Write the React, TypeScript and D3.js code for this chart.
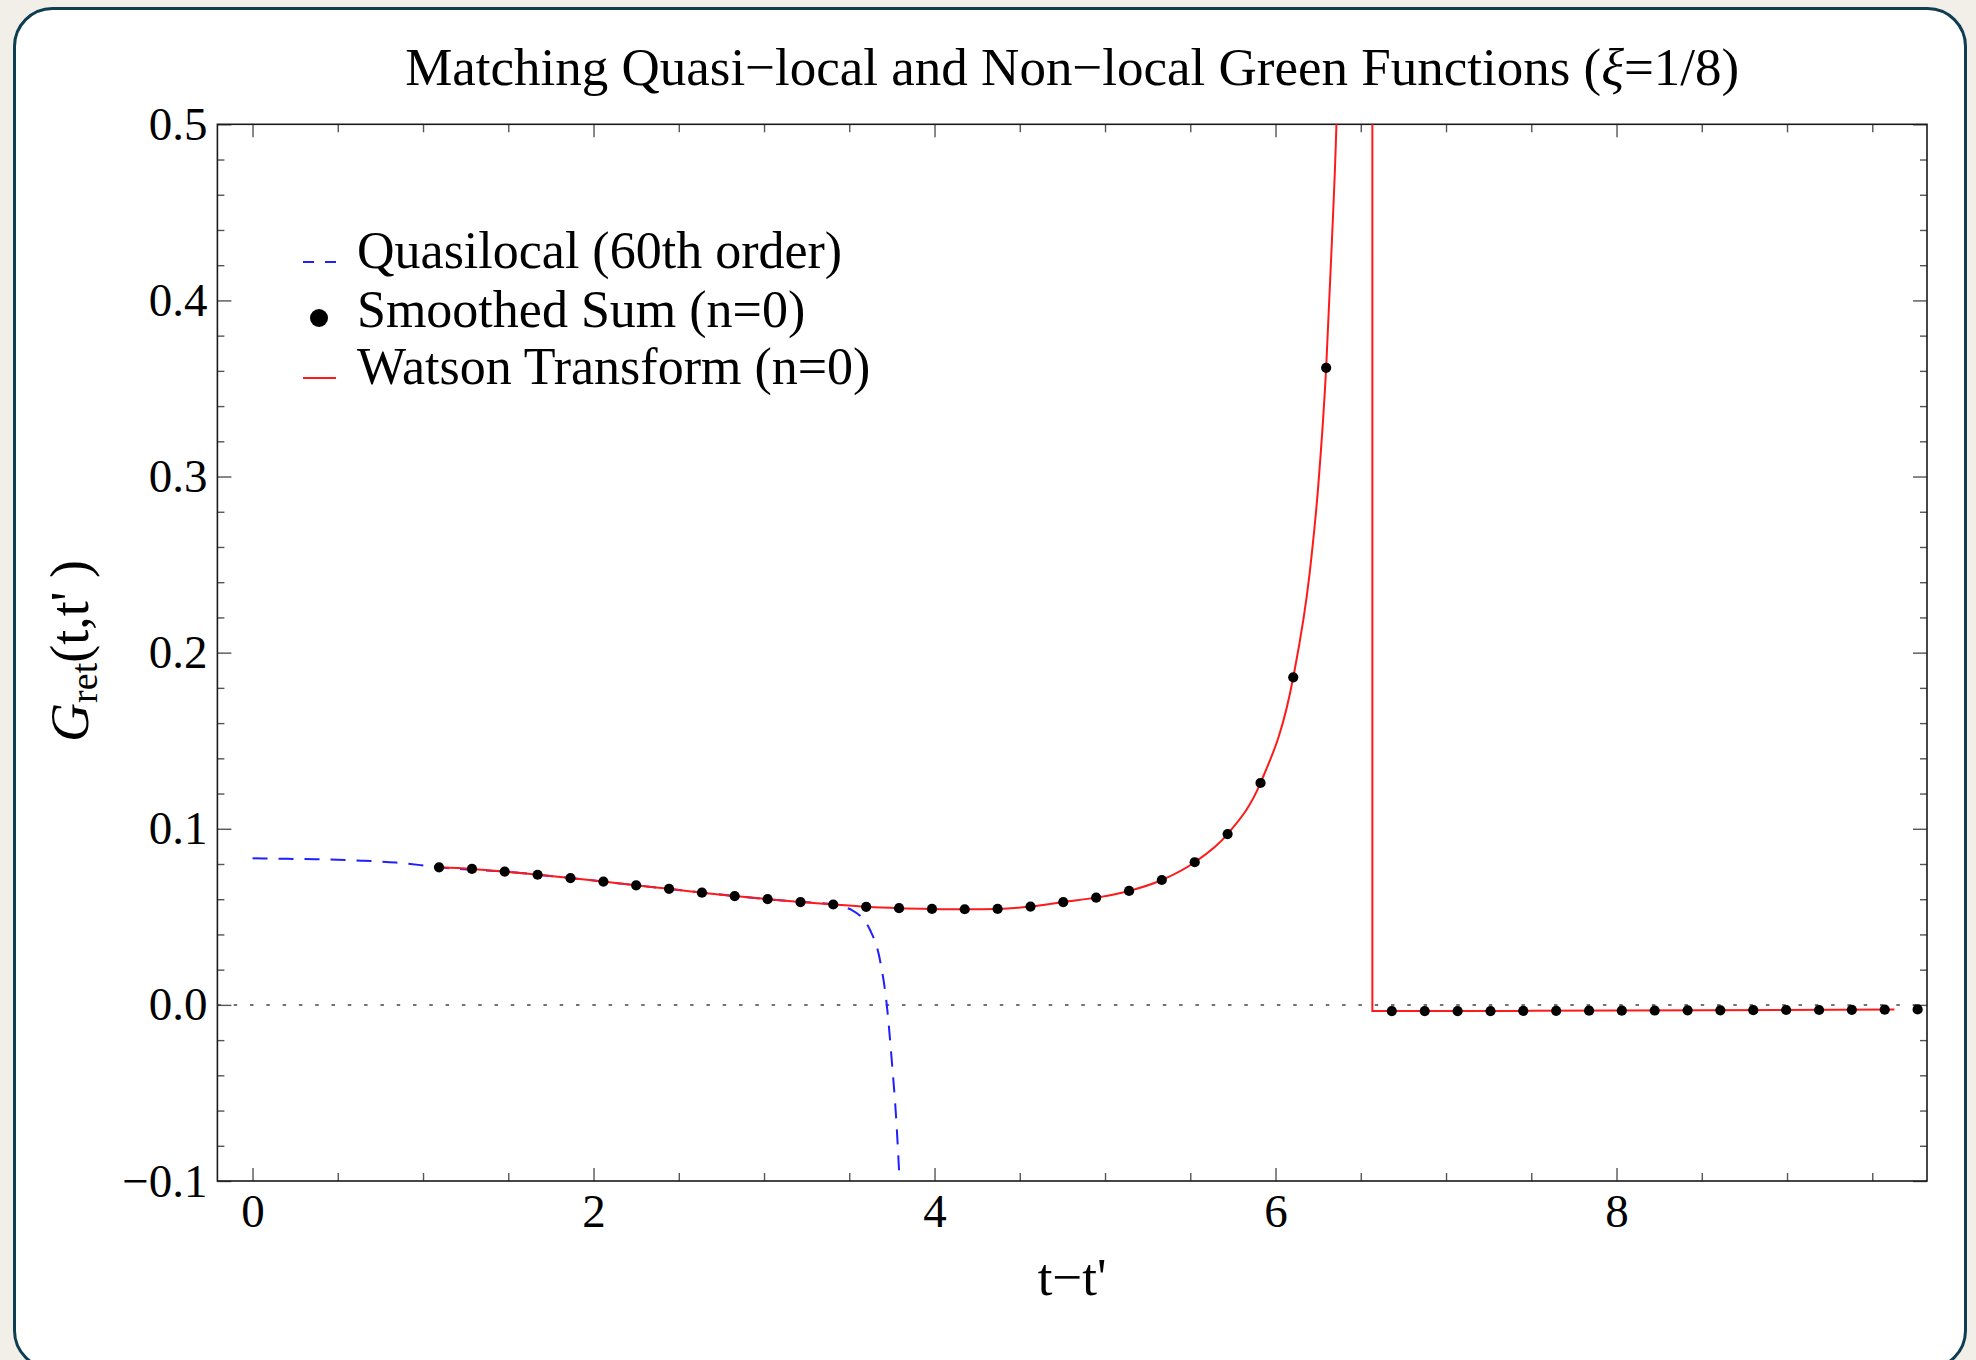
import React, { useEffect, useRef } from "react";
import * as d3 from "d3";

// smoothed sum (n=0)
const sumT = [
  1.094, 1.287, 1.479, 1.672, 1.865, 2.058, 2.25, 2.443, 2.636, 2.828, 3.021,
  3.214, 3.406, 3.599, 3.792, 3.985, 4.177, 4.37, 4.563, 4.755, 4.948, 5.141,
  5.333, 5.526, 5.719, 5.912, 6.104, 6.297, 6.682, 6.875, 7.068, 7.261, 7.453,
  7.646, 7.839, 8.031, 8.224, 8.417, 8.609, 8.802, 8.995, 9.188, 9.38, 9.573,
  9.766,
];
const sumG = [
  0.0781, 0.0772, 0.0757, 0.0739, 0.072, 0.07, 0.0679, 0.0659, 0.0637, 0.0618,
  0.06, 0.0584, 0.057, 0.0557, 0.0549, 0.0545, 0.0543, 0.0545, 0.0558, 0.0584,
  0.0609, 0.0647, 0.0709, 0.081, 0.097, 0.126, 0.186, 0.3617, -0.0035, -0.0035,
  -0.0035, -0.0035, -0.0034, -0.0034, -0.0033, -0.0033, -0.0032, -0.0031,
  -0.0031, -0.003, -0.0029, -0.0029, -0.0028, -0.0027, -0.0026,
];

// Watson transform (n=0): rising branch, then the jump and flat tail
const watsonT = [
  1.094, 1.287, 1.479, 1.672, 1.865, 2.058, 2.25, 2.443, 2.636, 2.828, 3.021,
  3.214, 3.406, 3.599, 3.792, 3.985, 4.177, 4.37, 4.563, 4.755, 4.948, 5.141,
  5.333, 5.526, 5.719, 5.912, 6.104, 6.2, 6.25, 6.297, 6.33, 6.36, 6.4,
];
const watsonG = [
  0.0781, 0.0772, 0.0757, 0.0739, 0.072, 0.07, 0.0679, 0.0659, 0.0637, 0.0618,
  0.06, 0.0584, 0.057, 0.0557, 0.0549, 0.0545, 0.0543, 0.0545, 0.0558, 0.0584,
  0.0609, 0.0647, 0.0709, 0.081, 0.097, 0.126, 0.186, 0.245, 0.294, 0.3617,
  0.432, 0.51, 0.735,
];
const tailT = [6.568, 6.568, 7.5, 8.5, 9.63];
const tailG = [0.8, -0.0035, -0.0034, -0.0031, -0.0026];

// quasilocal (60th order)
const quasiT = [
  0, 0.15, 0.37, 0.64, 0.84, 0.99, 1.094, 1.5, 2.0, 2.5, 3.0, 3.2, 3.406, 3.46,
  3.514, 3.573, 3.622, 3.68, 3.72, 3.749, 3.778, 3.795, 3.81,
];
const quasiG = [
  0.0832, 0.083, 0.0827, 0.0819, 0.0808, 0.0793, 0.0781, 0.0755, 0.0706,
  0.0652, 0.0602, 0.0585, 0.0571, 0.0558, 0.0539, 0.0497, 0.0425, 0.0255, 0.0,
  -0.0313, -0.069, -0.1, -0.13,
];

const xMajor = [0, 2, 4, 6, 8];
const xMinor = [0.5, 1, 1.5, 2.5, 3, 3.5, 4.5, 5, 5.5, 6.5, 7, 7.5, 8.5, 9, 9.5];
const yMajor = [-0.1, 0, 0.1, 0.2, 0.3, 0.4, 0.5];
const yMinor = [
  -0.08, -0.06, -0.04, -0.02, 0.02, 0.04, 0.06, 0.08, 0.12, 0.14, 0.16, 0.18,
  0.22, 0.24, 0.26, 0.28, 0.32, 0.34, 0.36, 0.38, 0.42, 0.44, 0.46, 0.48,
];
const legendLabels = [
  "Quasilocal (60th order)",
  "Smoothed Sum (n=0)",
  "Watson Transform (n=0)",
];

const W = 1976;
const H = 1360;
const FONT = "'Liberation Serif', 'Times New Roman', serif";

const Chart = () => {
  const ref = useRef(null);

  useEffect(() => {
    const svg = d3.select(ref.current);
    svg.selectAll("*").remove();

    const left = 217.4;
    const right = 1927;
    const top = 124.3;
    const bottom = 1181;

    const x = d3.scaleLinear().domain([-0.206, 9.821]).range([left, right]);
    const y = d3.scaleLinear().domain([-0.1, 0.5]).range([bottom, top]);

    // page background and rounded panel
    svg.append("rect").attr("width", W).attr("height", H).attr("fill", "#f2efe8");
    svg
      .append("rect")
      .attr("x", 14.5)
      .attr("y", 8.5)
      .attr("width", 1951)
      .attr("height", 1360)
      .attr("rx", 38)
      .attr("fill", "#ffffff")
      .attr("stroke", "#0e3e50")
      .attr("stroke-width", 3);

    svg
      .append("defs")
      .append("clipPath")
      .attr("id", "plotclip")
      .append("rect")
      .attr("x", left)
      .attr("y", top)
      .attr("width", right - left)
      .attr("height", bottom - top);

    // axes (ticks pointing inward on all four sides)
    const styleAxis = (g, fontSize) => {
      g.select(".domain").remove();
      g.selectAll("line").attr("stroke", "#555").attr("stroke-width", 1.4);
      g.selectAll("text")
        .attr("font-family", FONT)
        .attr("font-size", fontSize)
        .attr("fill", "#000");
    };
    const noLabel = () => "";
    const fmt = d3.format(".1f");

    const axes = [
      [d3.axisBottom(x).tickValues(xMinor).tickSize(-8).tickFormat(noLabel), `translate(0,${bottom})`],
      [d3.axisBottom(x).tickValues(xMajor).tickSize(-13).tickPadding(13).tickFormat(d3.format("d")), `translate(0,${bottom})`],
      [d3.axisTop(x).tickValues(xMinor).tickSize(-8).tickFormat(noLabel), `translate(0,${top})`],
      [d3.axisTop(x).tickValues(xMajor).tickSize(-13).tickFormat(noLabel), `translate(0,${top})`],
      [d3.axisLeft(y).tickValues(yMinor).tickSize(-7).tickFormat(noLabel), `translate(${left},0)`],
      [d3.axisLeft(y).tickValues(yMajor).tickSize(-14).tickPadding(10).tickFormat(fmt), `translate(${left},0)`],
      [d3.axisRight(y).tickValues(yMinor).tickSize(-7).tickFormat(noLabel), `translate(${right},0)`],
      [d3.axisRight(y).tickValues(yMajor).tickSize(-14).tickFormat(noLabel), `translate(${right},0)`],
    ];
    axes.forEach(([axis, tr]) => {
      const g = svg.append("g").attr("transform", tr).call(axis);
      styleAxis(g, 47);
    });

    // frame
    svg
      .append("rect")
      .attr("x", left)
      .attr("y", top)
      .attr("width", right - left)
      .attr("height", bottom - top)
      .attr("fill", "none")
      .attr("stroke", "#1a1a1a")
      .attr("stroke-width", 1.6);

    const plot = svg.append("g").attr("clip-path", "url(#plotclip)");

    // zero line
    plot
      .append("line")
      .attr("x1", left)
      .attr("x2", right)
      .attr("y1", y(0))
      .attr("y2", y(0))
      .attr("stroke", "#444")
      .attr("stroke-width", 1.5)
      .attr("stroke-dasharray", "3.5,12.8");

    const smooth = d3
      .line()
      .x((d) => x(d[0]))
      .y((d) => y(d[1]))
      .curve(d3.curveMonotoneX);
    const straight = d3
      .line()
      .x((d) => x(d[0]))
      .y((d) => y(d[1]));

    plot
      .append("path")
      .attr("d", smooth(d3.zip(quasiT, quasiG)))
      .attr("fill", "none")
      .attr("stroke", "#1f1fff")
      .attr("stroke-width", 2)
      .attr("stroke-dasharray", "15,11");

    plot
      .append("path")
      .attr("d", smooth(d3.zip(watsonT, watsonG)))
      .attr("fill", "none")
      .attr("stroke", "#ff1a1a")
      .attr("stroke-width", 2);
    plot
      .append("path")
      .attr("d", straight(d3.zip(tailT, tailG)))
      .attr("fill", "none")
      .attr("stroke", "#ff1a1a")
      .attr("stroke-width", 2);

    plot
      .selectAll("circle.sum")
      .data(d3.zip(sumT, sumG))
      .join("circle")
      .attr("class", "sum")
      .attr("cx", (d) => x(d[0]))
      .attr("cy", (d) => y(d[1]))
      .attr("r", 5.1)
      .attr("fill", "#000");

    // legend
    const legend = svg.append("g");
    const rowY = [268, 327, 384];
    const markY = [262, 318, 378];
    legend
      .selectAll("text")
      .data(legendLabels)
      .join("text")
      .attr("x", 357)
      .attr("y", (d, i) => rowY[i])
      .attr("font-family", FONT)
      .attr("font-size", 52)
      .text((d) => d);
    legend
      .append("line")
      .attr("x1", 303)
      .attr("x2", 336)
      .attr("y1", markY[0])
      .attr("y2", markY[0])
      .attr("stroke", "#1f1fff")
      .attr("stroke-width", 2)
      .attr("stroke-dasharray", "11,11");
    legend
      .append("circle")
      .attr("cx", 319)
      .attr("cy", markY[1])
      .attr("r", 9)
      .attr("fill", "#000");
    legend
      .append("line")
      .attr("x1", 303)
      .attr("x2", 336)
      .attr("y1", markY[2])
      .attr("y2", markY[2])
      .attr("stroke", "#ff1a1a")
      .attr("stroke-width", 2);

    // title
    const title = svg
      .append("text")
      .attr("x", (left + right) / 2)
      .attr("y", 85)
      .attr("text-anchor", "middle")
      .attr("font-family", FONT)
      .attr("font-size", 53);
    title.append("tspan").text("Matching Quasi\u2212local and Non\u2212local Green Functions (");
    title.append("tspan").attr("font-style", "italic").text("\u03be");
    title.append("tspan").text("=1/8)");

    // x label
    svg
      .append("text")
      .attr("x", (left + right) / 2)
      .attr("y", 1295)
      .attr("text-anchor", "middle")
      .attr("font-family", FONT)
      .attr("font-size", 53)
      .text("t\u2212t'");

    // y label
    const ylab = svg
      .append("text")
      .attr("transform", "translate(88,651) rotate(-90)")
      .attr("text-anchor", "middle")
      .attr("font-family", FONT)
      .attr("font-size", 54);
    ylab.append("tspan").attr("font-style", "italic").text("G");
    ylab.append("tspan").attr("font-size", 38).attr("dy", 9).text("ret");
    ylab.append("tspan").attr("dy", -9).text("(t,t' )");
  }, []);

  return (
    <svg
      ref={ref}
      width={W}
      height={H}
      style={{ position: "absolute", left: 0, top: 0, display: "block" }}
    ></svg>
  );
};

export default function App() {
  return <Chart />;
}
